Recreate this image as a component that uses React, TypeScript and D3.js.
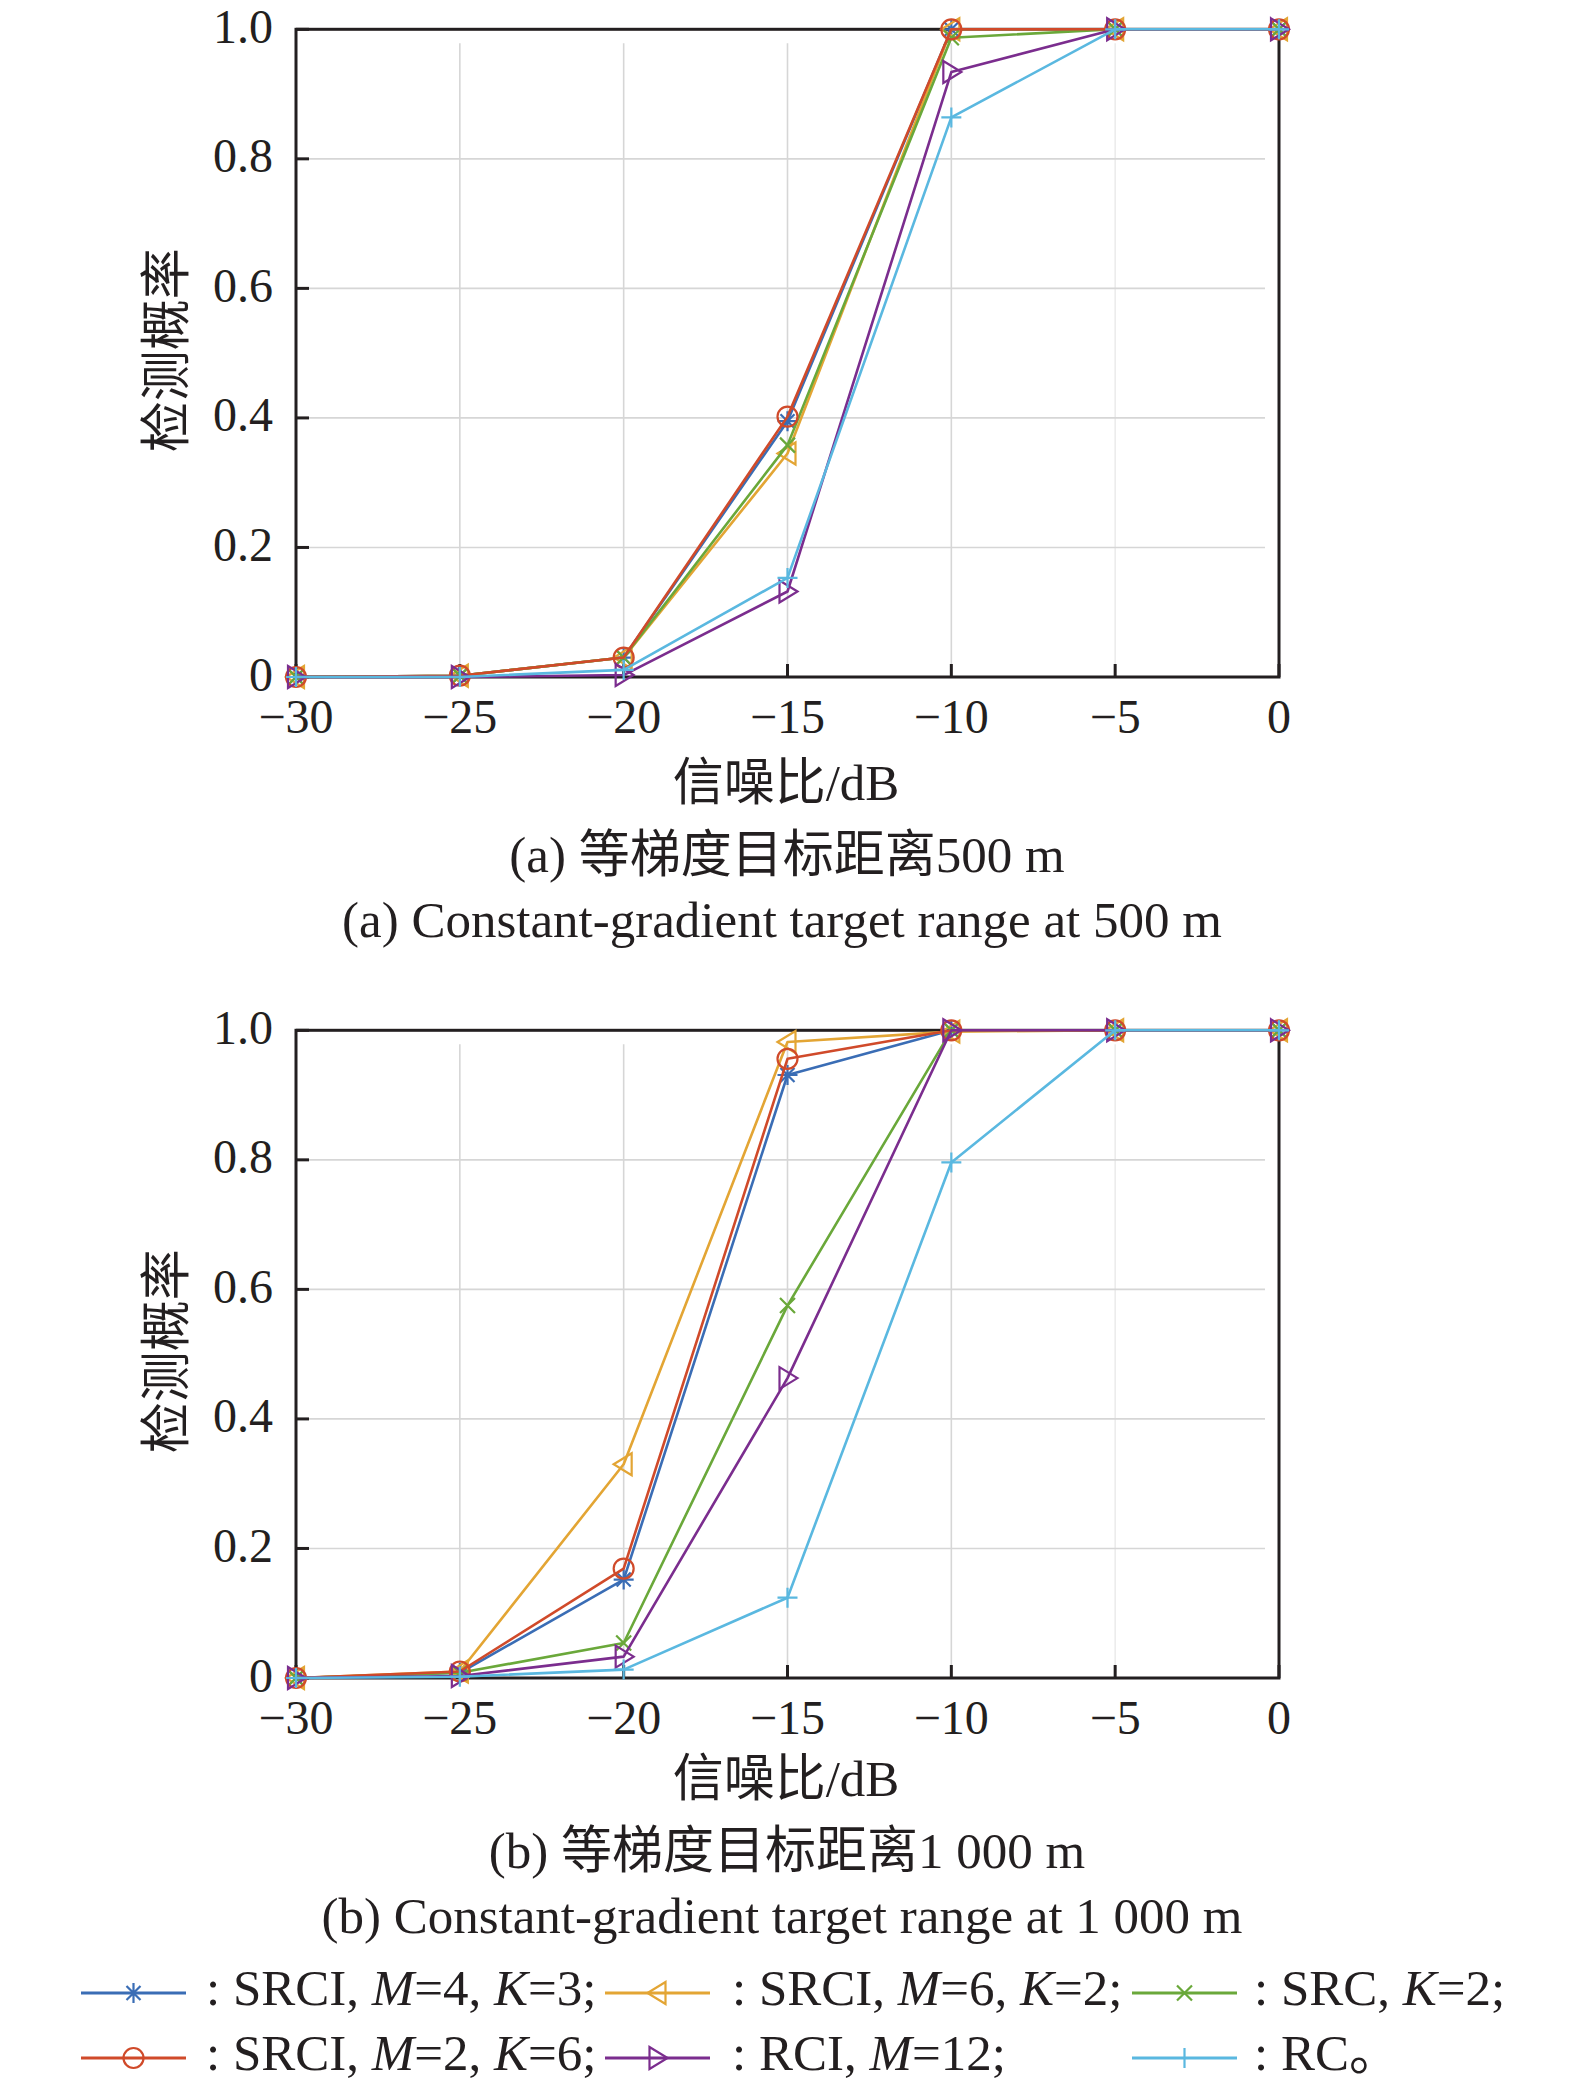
import React from "react";
import * as d3 from "d3";

// ---------- data ----------
const snr = [-30, -25, -20, -15, -10, -5, 0];
const xTicks = [-30, -25, -20, -15, -10, -5, 0];
const yTicks = [0, 0.2, 0.4, 0.6, 0.8, 1.0];

// panel (a): 500 m
const a_SRCI_M4K3 = [0, 0.002, 0.03, 0.395, 1, 1, 1];
const a_SRCI_M6K2 = [0, 0.002, 0.03, 0.345, 1, 1, 1];
const a_SRC_K2 = [0, 0.002, 0.03, 0.358, 0.987, 1, 1];
const a_SRCI_M2K6 = [0, 0.002, 0.03, 0.402, 1, 1, 1];
const a_RCI_M12 = [0, 0, 0.003, 0.132, 0.934, 1, 1];
const a_RC = [0, 0, 0.011, 0.153, 0.864, 1, 1];

// panel (b): 1 000 m
const b_SRCI_M4K3 = [0, 0.008, 0.152, 0.931, 1, 1, 1];
const b_SRCI_M6K2 = [0, 0.01, 0.33, 0.982, 0.998, 1, 1];
const b_SRC_K2 = [0, 0.008, 0.054, 0.575, 1, 1, 1];
const b_SRCI_M2K6 = [0, 0.01, 0.169, 0.956, 1, 1, 1];
const b_RCI_M12 = [0, 0.003, 0.033, 0.463, 1, 1, 1];
const b_RC = [0, 0.002, 0.013, 0.124, 0.796, 1, 1];

const seriesKeys = ["SRCI_M4K3", "SRCI_M6K2", "SRC_K2", "SRCI_M2K6", "RCI_M12", "RC"];
const seriesColors = ["#3a6db5", "#e3a534", "#6aa83a", "#d04a2a", "#7b2d8e", "#5ab8e0"];
const seriesMarkers = ["star", "triLeft", "x", "circle", "triRight", "plus"];

const panelAData = [a_SRCI_M4K3, a_SRCI_M6K2, a_SRC_K2, a_SRCI_M2K6, a_RCI_M12, a_RC];
const panelBData = [b_SRCI_M4K3, b_SRCI_M6K2, b_SRC_K2, b_SRCI_M2K6, b_RCI_M12, b_RC];

const yLabel = "检测概率";
const xLabel = "信噪比/dB";
const captionsA = ["(a) 等梯度目标距离500 m", "(a) Constant-gradient target range at 500 m"];
const captionsB = ["(b) 等梯度目标距离1 000 m", "(b) Constant-gradient target range at 1 000 m"];

// legend entries: [prefix, italic1, mid, italic2, suffix]
const legendTexts: string[][] = [
  [": SRCI, ", "M", "=4, ", "K", "=3;"],
  [": SRCI, ", "M", "=6, ", "K", "=2;"],
  [": SRC, ", "", "", "K", "=2;"],
  [": SRCI, ", "M", "=2, ", "K", "=6;"],
  [": RCI, ", "M", "=12;", "", ""],
  [": RC。", "", "", "", ""],
];

// ---------- layout ----------
const W = 1575;
const H = 2089;
const LEFT = 296;
const RIGHT = 1279;
const TOP_A = 29.3;
const BOT_A = 677;
const PANEL_DY = 1001;
const TEXT_DY = 996;
const INK = "#231f20";
const FONT = "'Liberation Serif', 'Times New Roman', 'Noto Sans CJK SC', serif";

function Marker({ type, cx, cy, color }: { type: string; cx: number; cy: number; color: string }) {
  const s = 10;
  const sw = 2.2;
  const common = { stroke: color, strokeWidth: sw, fill: "none" } as any;
  switch (type) {
    case "circle":
      return <circle cx={cx} cy={cy} r={s} {...common} />;
    case "triLeft":
      return (
        <path d={`M${cx - s},${cy} L${cx + s * 0.8},${cy - s * 1.1} L${cx + s * 0.8},${cy + s * 1.1} Z`} {...common} />
      );
    case "triRight":
      return (
        <path d={`M${cx + s},${cy} L${cx - s * 0.8},${cy - s * 1.1} L${cx - s * 0.8},${cy + s * 1.1} Z`} {...common} />
      );
    case "x": {
      const k = s * 0.75;
      return <path d={`M${cx - k},${cy - k} L${cx + k},${cy + k} M${cx - k},${cy + k} L${cx + k},${cy - k}`} {...common} />;
    }
    case "plus":
      return <path d={`M${cx - s},${cy} L${cx + s},${cy} M${cx},${cy - s} L${cx},${cy + s}`} {...common} />;
    case "star": {
      const k = s * 0.7;
      return (
        <path
          d={`M${cx - s},${cy} L${cx + s},${cy} M${cx},${cy - s} L${cx},${cy + s} M${cx - k},${cy - k} L${cx + k},${cy + k} M${cx - k},${cy + k} L${cx + k},${cy - k}`}
          {...common}
        />
      );
    }
    default:
      return null;
  }
}

function fmtX(v: number) {
  return v < 0 ? "\u2212" + Math.abs(v) : String(v);
}
function fmtY(v: number) {
  return v === 0 ? "0" : v.toFixed(1);
}

function Panel({ data, dy, tdy, captions }: { data: number[][]; dy: number; tdy: number; captions: string[] }) {
  const top = TOP_A + dy;
  const bottom = BOT_A + dy;
  const x = d3.scaleLinear().domain([-30, 0]).range([LEFT, RIGHT]);
  const y = d3.scaleLinear().domain([0, 1]).range([bottom, top]);
  const line = d3
    .line<number>()
    .x((_, i) => x(snr[i]))
    .y((d) => y(d));

  return (
    <g>
      {/* grid */}
      {xTicks
        .filter((t) => t !== -30 && t !== 0)
        .map((t) => (
          <line
            key={"gx" + t}
            x1={x(t)}
            x2={x(t)}
            y1={top + 14}
            y2={bottom}
            stroke={t === -5 ? "#ececec" : "#d6d6d6"}
            strokeWidth={1.6}
          />
        ))}
      {yTicks
        .filter((t) => t !== 0 && t !== 1)
        .map((t) => (
          <line key={"gy" + t} x1={LEFT + 13} x2={RIGHT - 14} y1={y(t)} y2={y(t)} stroke="#d6d6d6" strokeWidth={1.6} />
        ))}
      {/* frame */}
      <rect x={LEFT} y={top} width={RIGHT - LEFT} height={bottom - top} fill="none" stroke={INK} strokeWidth={3} />
      {/* ticks */}
      {yTicks.map((t) => (
        <line key={"ty" + t} x1={LEFT} x2={LEFT + 13} y1={y(t)} y2={y(t)} stroke={INK} strokeWidth={3} />
      ))}
      {xTicks.map((t) => (
        <line key={"tx" + t} x1={x(t)} x2={x(t)} y1={bottom} y2={bottom - 13} stroke={INK} strokeWidth={3} />
      ))}
      {/* series */}
      {data.map((vals, si) => (
        <g key={seriesKeys[si]}>
          <path d={line(vals) || ""} fill="none" stroke={seriesColors[si]} strokeWidth={2.6} strokeLinejoin="round" />
          {vals.map((v, i) => (
            <Marker key={i} type={seriesMarkers[si]} cx={x(snr[i])} cy={y(v)} color={seriesColors[si]} />
          ))}
        </g>
      ))}
      {/* tick labels */}
      {yTicks.map((t) => (
        <text key={"ly" + t} x={LEFT - 23} y={y(t) + 13.5} textAnchor="end" fontSize={48} fill={INK} fontFamily={FONT}>
          {fmtY(t)}
        </text>
      ))}
      {xTicks.map((t) => (
        <text key={"lx" + t} x={x(t)} y={bottom + 56} textAnchor="middle" fontSize={48} fill={INK} fontFamily={FONT}>
          {fmtX(t)}
        </text>
      ))}
      {/* axis labels */}
      <text
        transform={`translate(167, ${(top + bottom) / 2 - 3}) rotate(-90)`}
        textAnchor="middle"
        dominantBaseline="central"
        fontSize={51}
        fill={INK}
        fontFamily={FONT}
      >
        {yLabel}
      </text>
      <text x={786} y={800 + tdy} textAnchor="middle" fontSize={51} fill={INK} fontFamily={FONT}>
        {xLabel}
      </text>
      <text x={787} y={872 + tdy} textAnchor="middle" fontSize={51} fill={INK} fontFamily={FONT}>
        {captions[0]}
      </text>
      <text x={782} y={937 + tdy} textAnchor="middle" fontSize={51} fill={INK} fontFamily={FONT}>
        {captions[1]}
      </text>
    </g>
  );
}

function Legend() {
  const colX = [81, 605, 1132];
  const textOff = [125, 127, 122];
  const rowY = [1993, 2058];
  const lineLen = 105;
  return (
    <g>
      {seriesKeys.map((k, i) => {
        const col = i % 3;
        const row = Math.floor(i / 3);
        const x0 = colX[col];
        const yy = rowY[row];
        const t = legendTexts[i];
        return (
          <g key={"lg" + k}>
            <line x1={x0} x2={x0 + lineLen} y1={yy} y2={yy} stroke={seriesColors[i]} strokeWidth={3} />
            <Marker type={seriesMarkers[i]} cx={x0 + lineLen / 2} cy={yy} color={seriesColors[i]} />
            <text x={x0 + textOff[col]} y={yy + 12} fontSize={51} fill={INK} fontFamily={FONT}>
              <tspan>{t[0]}</tspan>
              {t[1] && <tspan fontStyle="italic">{t[1]}</tspan>}
              {t[2] && <tspan>{t[2]}</tspan>}
              {t[3] && <tspan fontStyle="italic">{t[3]}</tspan>}
              {t[4] && <tspan>{t[4]}</tspan>}
            </text>
          </g>
        );
      })}
    </g>
  );
}

export default function App() {
  return (
    <svg
      width={W}
      height={H}
      viewBox={`0 0 ${W} ${H}`}
      style={{ position: "absolute", left: 0, top: 0, background: "#fff" }}
    >
      <rect x={0} y={0} width={W} height={H} fill="#fff" />
      <Panel data={panelAData} dy={0} tdy={0} captions={captionsA} />
      <Panel data={panelBData} dy={PANEL_DY} tdy={TEXT_DY} captions={captionsB} />
      <Legend />
    </svg>
  );
}
